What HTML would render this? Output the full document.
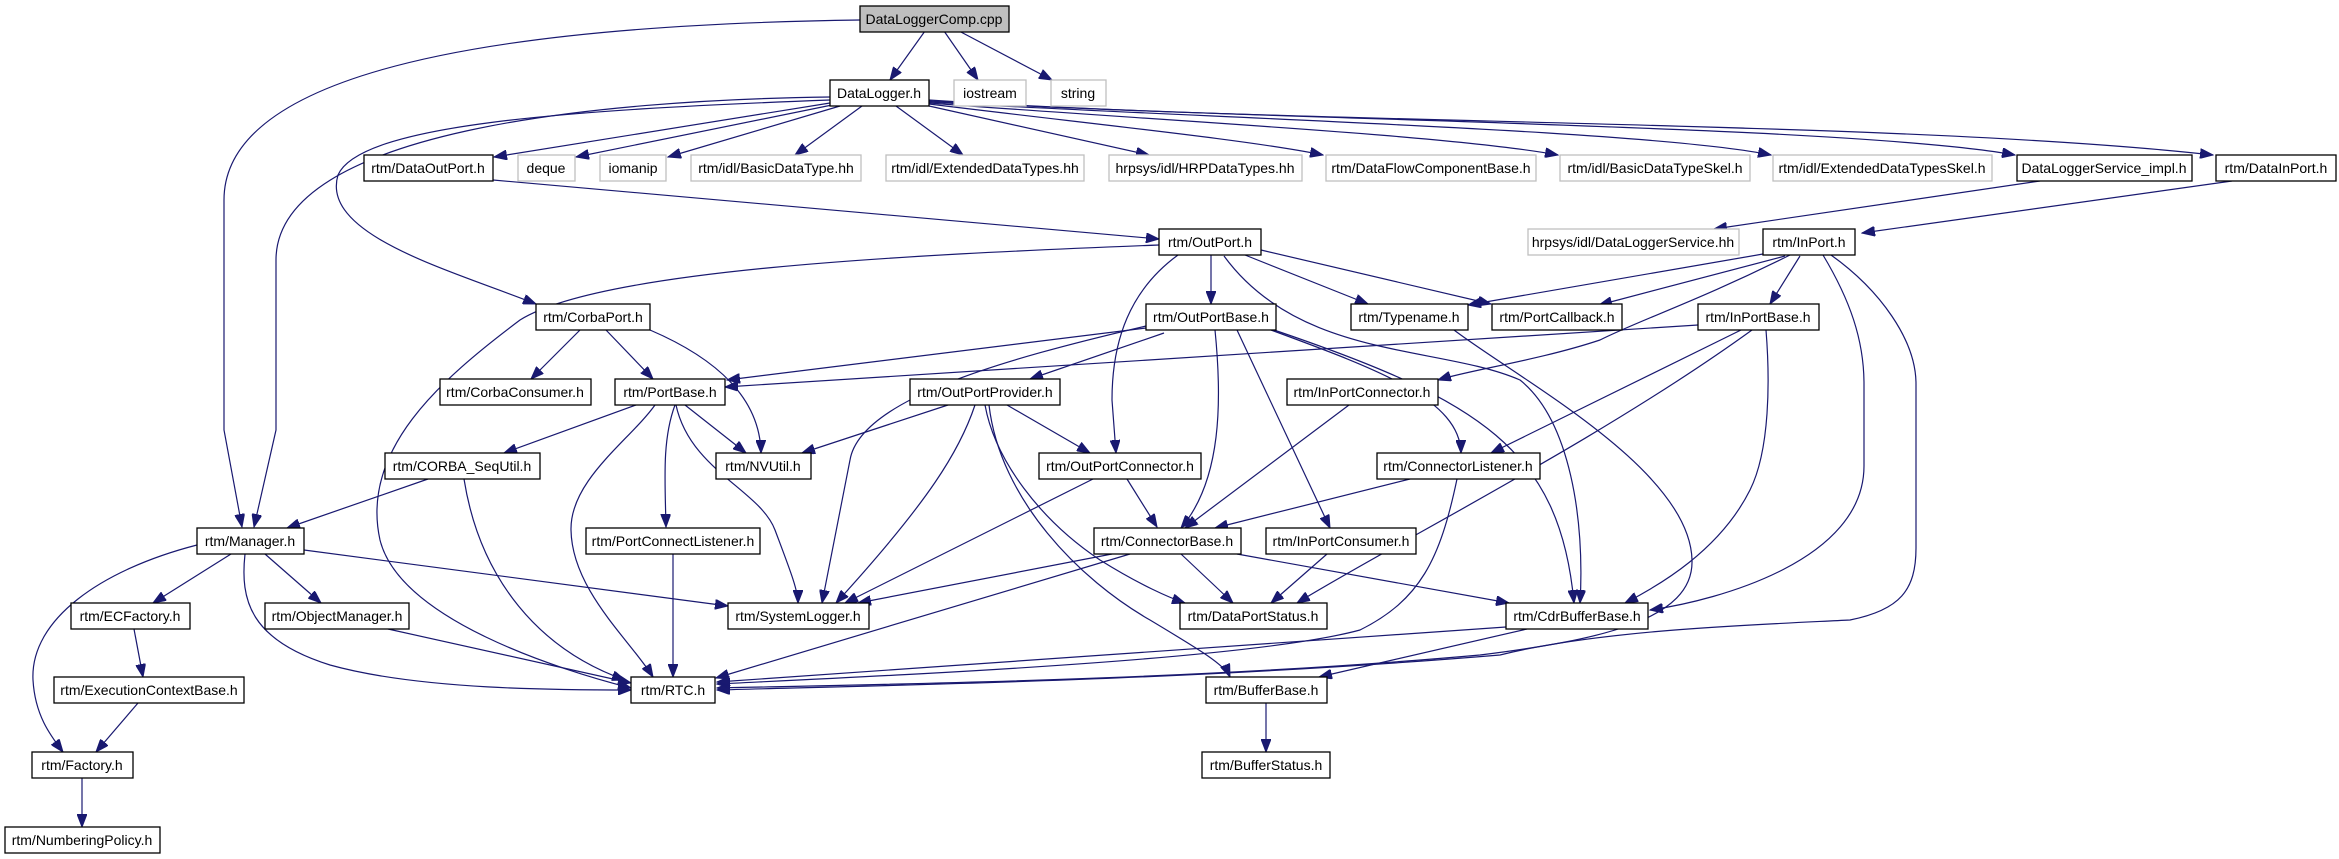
<!DOCTYPE html>
<html><head><meta charset="utf-8"><style>
html,body{margin:0;padding:0;background:#fff;}
svg{display:block;}
text{font-family:"Liberation Sans",Arial,sans-serif;font-size:14px;text-anchor:middle;fill:#000;}
.b{fill:#fff;stroke:#000;stroke-width:1.3;}
.g{fill:#fff;stroke:#bfbfbf;stroke-width:1.3;}
.r{fill:#bfbfbf;stroke:#000;stroke-width:1.3;}
path{fill:none;stroke:#191970;stroke-width:1.2;marker-end:url(#a);}
</style></head><body>
<svg width="2339" height="859" viewBox="0 0 2339 859" xmlns="http://www.w3.org/2000/svg">
<defs><marker id="a" markerUnits="userSpaceOnUse" markerWidth="14" markerHeight="10" refX="13" refY="5" orient="auto"><polygon points="0,0 13,5 0,10" fill="#191970" stroke="#191970"/></marker></defs>
<g>
<path d="M860,20 C500,25 224,70 224,200 L224,430 L242,527"/>
<path d="M925,31 L890,80"/>
<path d="M944,31 L978,80"/>
<path d="M959,31 L1052,80"/>
<path d="M830,97 C600,100 276,130 276,260 L276,430 L254,527"/>
<path d="M830,100 C560,110 360,125 338,175 C320,235 450,270 536,304"/>
<path d="M830,103 L494,157"/>
<path d="M832,105 L576,157"/>
<path d="M840,106 L668,157"/>
<path d="M862,106 L795,155"/>
<path d="M896,106 L963,155"/>
<path d="M929,106 L1149,155"/>
<path d="M929,104 C1100,125 1250,140 1323,155"/>
<path d="M929,103 C1150,120 1450,135 1558,155"/>
<path d="M929,102 C1200,118 1650,130 1771,155"/>
<path d="M929,101 C1250,120 1850,125 2015,155"/>
<path d="M929,100 C1300,125 1900,120 2213,155"/>
<path d="M493,180 L1159,239"/>
<path d="M2040,181 L1714,229"/>
<path d="M2232,181 L1862,233"/>
<path d="M1159,245 C900,255 600,270 520,320 C440,380 360,450 380,540 C400,620 560,670 631,688"/>
<path d="M1178,255 C1130,290 1112,340 1112,400 L1116,453"/>
<path d="M1211,255 L1211,304"/>
<path d="M1245,255 L1368,304"/>
<path d="M1261,250 L1491,304"/>
<path d="M1224,256 C1300,360 1440,345 1520,380 C1570,420 1585,520 1580,603"/>
<path d="M1271,330 C1380,370 1460,400 1461,453"/>
<path d="M1274,330 C1480,400 1560,450 1574,603"/>
<path d="M1215,330 C1222,400 1222,480 1181,528"/>
<path d="M1237,330 L1330,528"/>
<path d="M1146,328 L727,380"/>
<path d="M1164,333 L1030,379"/>
<path d="M1146,326 C1000,360 860,400 850,460 L822,603"/>
<path d="M1831,255 C1880,290 1916,340 1916,384 L1916,548 C1916,590 1900,610 1850,620 C1750,625 1600,630 1500,655 C1200,680 900,685 717,690"/>
<path d="M1454,330 C1520,380 1690,470 1692,560 C1694,620 1600,640 1480,655 C1200,680 900,684 717,688"/>
<path d="M1823,255 C1850,300 1864,340 1864,384 L1864,466 C1864,560 1720,600 1650,610"/>
<path d="M1790,255 C1700,300 1640,320 1600,340 C1540,360 1470,370 1438,380"/>
<path d="M1763,254 L1468,305"/>
<path d="M1785,256 L1599,305"/>
<path d="M1800,256 L1770,304"/>
<path d="M1698,325 L725,387"/>
<path d="M1766,330 C1770,380 1770,450 1750,490 C1720,550 1660,585 1625,603"/>
<path d="M1752,330 C1600,440 1400,540 1297,603"/>
<path d="M1741,330 L1491,453"/>
<path d="M580,330 L531,379"/>
<path d="M606,330 L653,379"/>
<path d="M650,330 C720,360 760,400 761,453"/>
<path d="M636,405 L504,453"/>
<path d="M685,405 L746,453"/>
<path d="M675,405 C662,440 665,480 666,527"/>
<path d="M655,405 C630,440 570,480 571,530 C572,590 630,640 653,677"/>
<path d="M676,405 C690,470 760,490 775,530 C790,570 798,590 798,603"/>
<path d="M948,405 L802,453"/>
<path d="M1007,405 L1090,453"/>
<path d="M975,405 C960,450 930,500 836,603"/>
<path d="M985,405 C995,460 1040,520 1100,560 C1140,585 1170,598 1185,603"/>
<path d="M989,405 C1000,500 1080,580 1150,620 C1200,650 1225,665 1230,677"/>
<path d="M428,479 L287,528"/>
<path d="M464,479 C480,580 540,650 625,680"/>
<path d="M1093,479 L845,603"/>
<path d="M1127,479 L1157,527"/>
<path d="M1349,405 L1185,528"/>
<path d="M1410,479 L1215,528"/>
<path d="M1457,479 C1440,560 1420,600 1360,630 C1250,660 900,675 717,684"/>
<path d="M304,550 L728,606"/>
<path d="M231,554 L153,603"/>
<path d="M265,554 L321,603"/>
<path d="M245,554 C240,600 250,640 330,665 C420,690 560,690 631,690"/>
<path d="M197,545 C100,570 30,620 33,680 C35,715 50,735 63,752"/>
<path d="M673,554 L673,677"/>
<path d="M1112,554 L858,603"/>
<path d="M1130,554 L716,678"/>
<path d="M1181,554 L1233,603"/>
<path d="M1237,554 L1509,603"/>
<path d="M1327,554 L1271,603"/>
<path d="M388,629 L631,683"/>
<path d="M1506,627 L717,682"/>
<path d="M1527,629 L1319,677"/>
<path d="M134,629 L143,677"/>
<path d="M138,703 L96,752"/>
<path d="M1266,703 L1266,752"/>
<path d="M82,778 L82,827"/>
</g>
<g>
<rect class="r" x="860" y="6" width="149" height="26"/><text x="934" y="24">DataLoggerComp.cpp</text>
<rect class="b" x="830" y="80" width="99" height="26"/><text x="879" y="98">DataLogger.h</text>
<rect class="g" x="954" y="80" width="72" height="26"/><text x="990" y="98">iostream</text>
<rect class="g" x="1051" y="80" width="55" height="26"/><text x="1078" y="98">string</text>
<rect class="b" x="364" y="155" width="129" height="26"/><text x="428" y="173">rtm/DataOutPort.h</text>
<rect class="g" x="518" y="155" width="57" height="26"/><text x="546" y="173">deque</text>
<rect class="g" x="600" y="155" width="66" height="26"/><text x="633" y="173">iomanip</text>
<rect class="g" x="691" y="155" width="170" height="26"/><text x="776" y="173">rtm/idl/BasicDataType.hh</text>
<rect class="g" x="886" y="155" width="198" height="26"/><text x="985" y="173">rtm/idl/ExtendedDataTypes.hh</text>
<rect class="g" x="1109" y="155" width="193" height="26"/><text x="1205" y="173">hrpsys/idl/HRPDataTypes.hh</text>
<rect class="g" x="1326" y="155" width="210" height="26"/><text x="1431" y="173">rtm/DataFlowComponentBase.h</text>
<rect class="g" x="1560" y="155" width="190" height="26"/><text x="1655" y="173">rtm/idl/BasicDataTypeSkel.h</text>
<rect class="g" x="1773" y="155" width="219" height="26"/><text x="1882" y="173">rtm/idl/ExtendedDataTypesSkel.h</text>
<rect class="b" x="2017" y="155" width="175" height="26"/><text x="2104" y="173">DataLoggerService_impl.h</text>
<rect class="b" x="2216" y="155" width="120" height="26"/><text x="2276" y="173">rtm/DataInPort.h</text>
<rect class="b" x="1159" y="229" width="102" height="26"/><text x="1210" y="247">rtm/OutPort.h</text>
<rect class="g" x="1528" y="229" width="211" height="26"/><text x="1633" y="247">hrpsys/idl/DataLoggerService.hh</text>
<rect class="b" x="1763" y="229" width="92" height="26"/><text x="1809" y="247">rtm/InPort.h</text>
<rect class="b" x="536" y="304" width="114" height="26"/><text x="593" y="322">rtm/CorbaPort.h</text>
<rect class="b" x="1146" y="304" width="130" height="26"/><text x="1211" y="322">rtm/OutPortBase.h</text>
<rect class="b" x="1351" y="304" width="117" height="26"/><text x="1409" y="322">rtm/Typename.h</text>
<rect class="b" x="1492" y="304" width="130" height="26"/><text x="1557" y="322">rtm/PortCallback.h</text>
<rect class="b" x="1698" y="304" width="121" height="26"/><text x="1758" y="322">rtm/InPortBase.h</text>
<rect class="b" x="440" y="379" width="151" height="26"/><text x="515" y="397">rtm/CorbaConsumer.h</text>
<rect class="b" x="615" y="379" width="110" height="26"/><text x="670" y="397">rtm/PortBase.h</text>
<rect class="b" x="910" y="379" width="150" height="26"/><text x="985" y="397">rtm/OutPortProvider.h</text>
<rect class="b" x="1287" y="379" width="151" height="26"/><text x="1362" y="397">rtm/InPortConnector.h</text>
<rect class="b" x="385" y="453" width="155" height="26"/><text x="462" y="471">rtm/CORBA_SeqUtil.h</text>
<rect class="b" x="716" y="453" width="95" height="26"/><text x="763" y="471">rtm/NVUtil.h</text>
<rect class="b" x="1039" y="453" width="162" height="26"/><text x="1120" y="471">rtm/OutPortConnector.h</text>
<rect class="b" x="1377" y="453" width="163" height="26"/><text x="1458" y="471">rtm/ConnectorListener.h</text>
<rect class="b" x="197" y="528" width="107" height="26"/><text x="250" y="546">rtm/Manager.h</text>
<rect class="b" x="586" y="528" width="174" height="26"/><text x="673" y="546">rtm/PortConnectListener.h</text>
<rect class="b" x="1094" y="528" width="147" height="26"/><text x="1167" y="546">rtm/ConnectorBase.h</text>
<rect class="b" x="1266" y="528" width="150" height="26"/><text x="1341" y="546">rtm/InPortConsumer.h</text>
<rect class="b" x="71" y="603" width="119" height="26"/><text x="130" y="621">rtm/ECFactory.h</text>
<rect class="b" x="265" y="603" width="144" height="26"/><text x="337" y="621">rtm/ObjectManager.h</text>
<rect class="b" x="728" y="603" width="141" height="26"/><text x="798" y="621">rtm/SystemLogger.h</text>
<rect class="b" x="1180" y="603" width="147" height="26"/><text x="1253" y="621">rtm/DataPortStatus.h</text>
<rect class="b" x="1506" y="603" width="142" height="26"/><text x="1577" y="621">rtm/CdrBufferBase.h</text>
<rect class="b" x="54" y="677" width="190" height="26"/><text x="149" y="695">rtm/ExecutionContextBase.h</text>
<rect class="b" x="631" y="677" width="84" height="26"/><text x="673" y="695">rtm/RTC.h</text>
<rect class="b" x="1206" y="677" width="121" height="26"/><text x="1266" y="695">rtm/BufferBase.h</text>
<rect class="b" x="32" y="752" width="101" height="26"/><text x="82" y="770">rtm/Factory.h</text>
<rect class="b" x="1202" y="752" width="128" height="26"/><text x="1266" y="770">rtm/BufferStatus.h</text>
<rect class="b" x="5" y="827" width="155" height="26"/><text x="82" y="845">rtm/NumberingPolicy.h</text>
</g>
</svg>
</body></html>
